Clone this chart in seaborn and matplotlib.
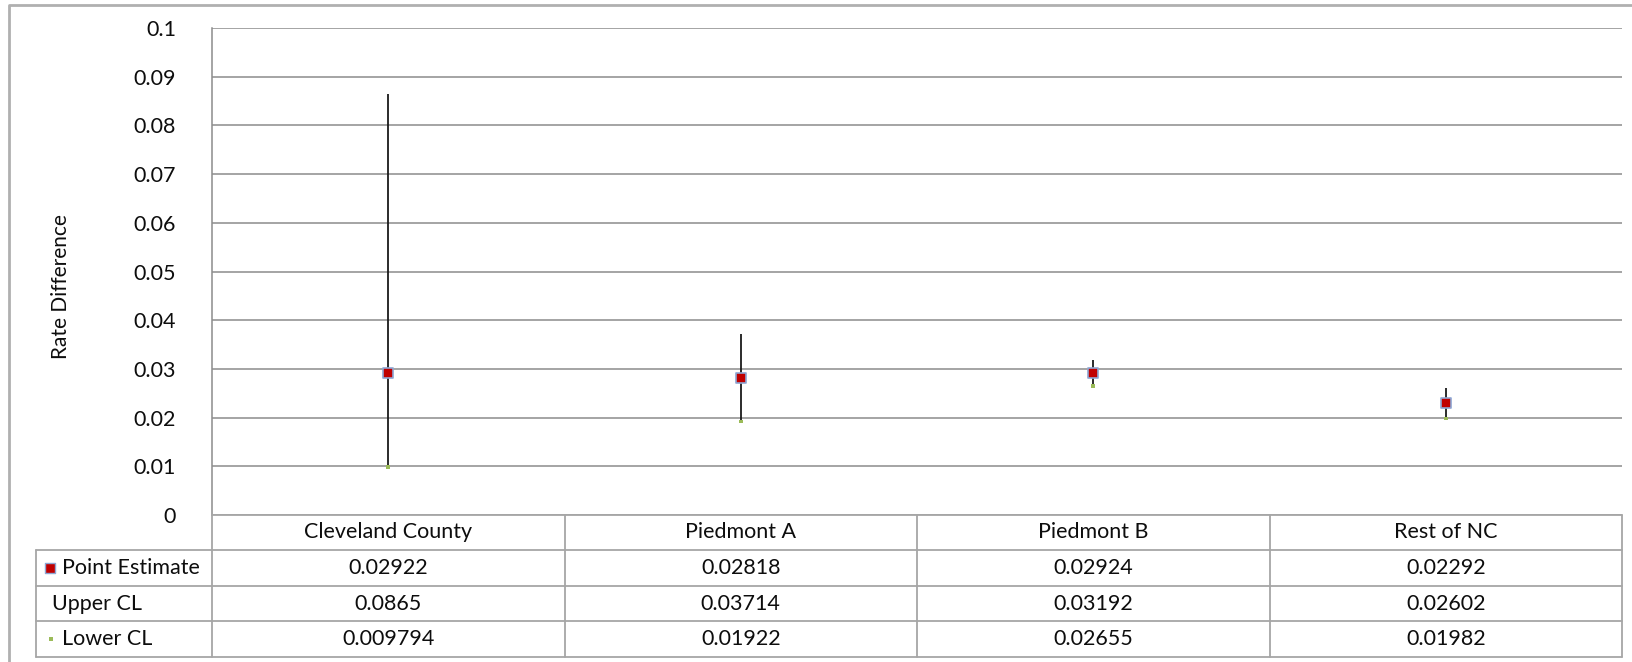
import matplotlib
matplotlib.use("Agg")
import matplotlib.pyplot as plt
import seaborn as sns
import pandas as pd

# Rate difference estimates with confidence limits by region
regions = ["Cleveland County", "Piedmont A", "Piedmont B", "Rest of NC"]
point_estimate = [0.02922, 0.02818, 0.02924, 0.02292]
upper_cl = [0.0865, 0.03714, 0.03192, 0.02602]
lower_cl = [0.009794, 0.01922, 0.02655, 0.01982]
row_labels = ["Point Estimate", "Upper CL", "Lower CL"]
y_ticks = [0, 0.01, 0.02, 0.03, 0.04, 0.05, 0.06, 0.07, 0.08, 0.09, 0.1]

sns.set_style("white")
plt.rcParams["font.family"] = ["Lato", "DejaVu Sans"]

W, H = 1632, 662
fig = plt.figure(figsize=(W / 100, H / 100), dpi=100)

GRID = "#8c8c8c"
TABLE = "#a6a6a6"
RED = "#c00000"
GREEN = "#9bbb59"
TXT = "#0d0d0d"
FS = 15.5

# plot-area geometry in pixels
px_left, px_right, px_top, px_bottom = 212, 1622, 28, 515
ax = fig.add_axes([px_left / W, 1 - px_bottom / H,
                   (px_right - px_left) / W, (px_bottom - px_top) / H])

df = pd.DataFrame({"region": regions, "pos": range(len(regions)),
                   "est": point_estimate, "upper": upper_cl, "lower": lower_cl})

ax.vlines(df["pos"], df["lower"], df["upper"], color="#1a1a1a", lw=1.3, zorder=3)
sns.scatterplot(data=df, x="pos", y="lower", marker="s", s=7, color=GREEN,
                edgecolor="none", ax=ax, zorder=4)
sns.scatterplot(data=df, x="pos", y="est", marker="s", s=60, color=RED,
                edgecolor="#8ea6d3", linewidth=1.2, ax=ax, zorder=5)

ax.set_xlim(-0.5, len(regions) - 0.5)
ax.set_ylim(0, 0.1)
ax.set_yticks(y_ticks)
ax.set_yticklabels([f"{t:g}" for t in y_ticks], fontsize=FS, color=TXT)
ax.tick_params(axis="y", length=0, pad=26)
ax.set_xticks([])
ax.set_xlabel("")
ax.set_ylabel("Rate Difference", fontsize=15, color=TXT, labelpad=0)
ax.yaxis.set_label_coords(-0.1, 0.47)
for t in y_ticks:
    ax.axhline(t, color=GRID, lw=1.1, zorder=1)
for s in ["top", "right", "bottom"]:
    ax.spines[s].set_visible(False)
ax.spines["left"].set_color(GRID)
ax.spines["left"].set_linewidth(1.1)

# data table beneath the plot
t_left = 36
rows_y = [515, 550, 586, 621, 657]
tax = fig.add_axes([0, 0, 1, 1])
tax.set_xlim(0, W)
tax.set_ylim(H, 0)
tax.axis("off")
tax.patch.set_alpha(0)

col_w = (px_right - px_left) / len(regions)
col_edges = [px_left + i * col_w for i in range(len(regions) + 1)]

tax.plot([px_left, px_right], [rows_y[0]] * 2, color=TABLE, lw=1.3)
for y in rows_y[1:]:
    tax.plot([t_left, px_right], [y, y], color=TABLE, lw=1.3)
tax.plot([t_left, t_left], [rows_y[1], rows_y[-1]], color=TABLE, lw=1.3)
for x in col_edges:
    tax.plot([x, x], [rows_y[0], rows_y[-1]], color=TABLE, lw=1.3)

# outer chart border
tax.plot([9, 9, W + 5], [H + 5, 5, 5], color="#b0b0b0", lw=2)

def mid(i):
    return (rows_y[i] + rows_y[i + 1]) / 2

for j, name in enumerate(regions):
    cx = (col_edges[j] + col_edges[j + 1]) / 2
    tax.text(cx, mid(0), name, ha="center", va="center", fontsize=FS, color=TXT)
    for i, vals in enumerate([point_estimate, upper_cl, lower_cl]):
        tax.text(cx, mid(i + 1), f"{vals[j]:g}", ha="center", va="center",
                 fontsize=FS, color=TXT)

tax.text(62, mid(1), row_labels[0], ha="left", va="center", fontsize=FS, color=TXT)
tax.text(52, mid(2), row_labels[1], ha="left", va="center", fontsize=FS, color=TXT)
tax.text(62, mid(3), row_labels[2], ha="left", va="center", fontsize=FS, color=TXT)
tax.scatter([50], [mid(1)], marker="s", s=45, color=RED, edgecolor="#8ea6d3", linewidth=1)
tax.scatter([51], [mid(3)], marker="s", s=5, color=GREEN, edgecolor="none")

fig.savefig("out.png", dpi=100, facecolor="white")
